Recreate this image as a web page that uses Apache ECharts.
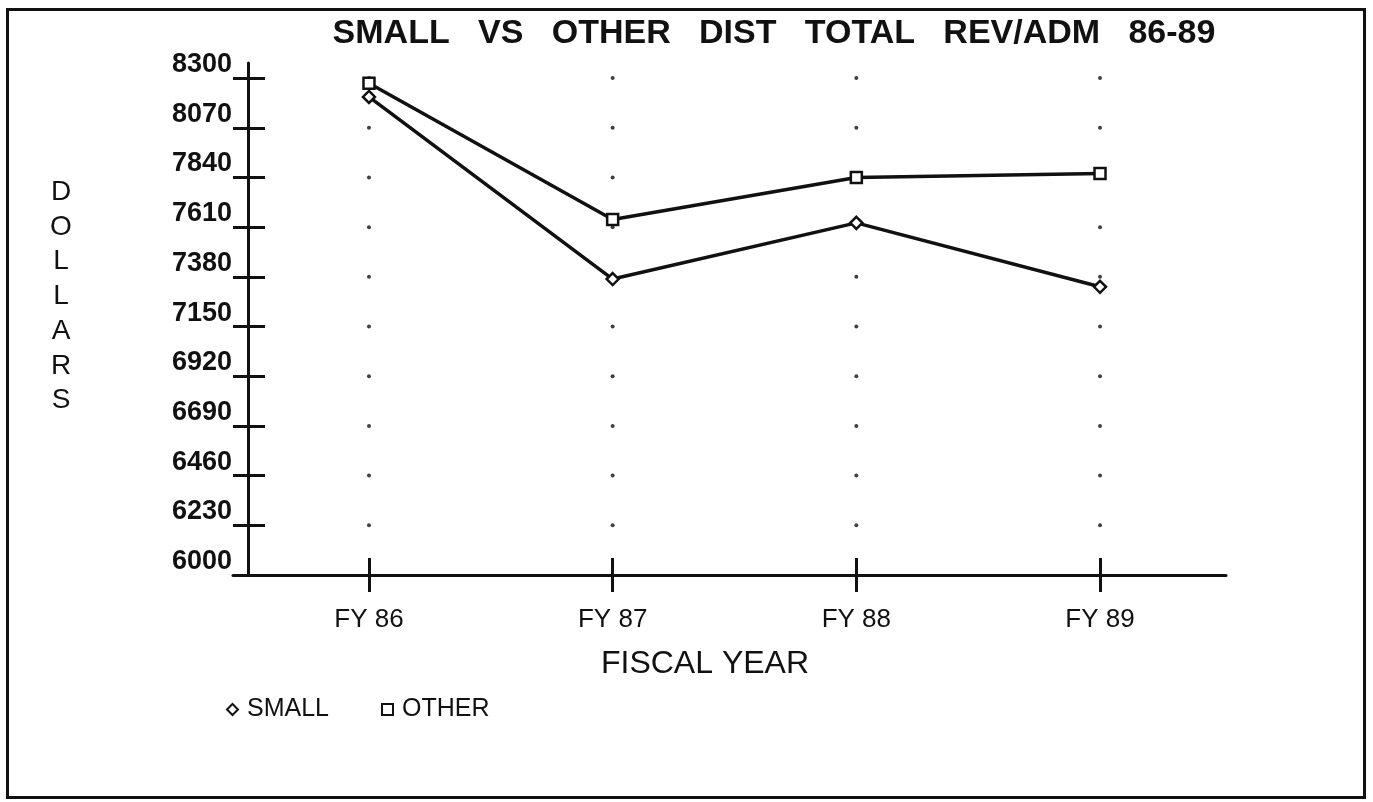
<!DOCTYPE html>
<html>
<head>
<meta charset="utf-8">
<script src="https://cdn.jsdelivr.net/npm/echarts@6/dist/echarts.min.js"></script>
<style>
  html, body { margin: 0; padding: 0; background: #ffffff; }
  #chart { width: 1373px; height: 802px; position: absolute; left: 0; top: 0; }
  #frame { position: absolute; left: 6px; top: 8px; width: 1354px; height: 785px;
           border: 3px solid #111; pointer-events: none; }
</style>
</head>
<body>
<div id="chart"></div>
<div id="frame"></div>
<script>
// ---- data ----
const categories = ['FY 86', 'FY 87', 'FY 88', 'FY 89'];
const smallValues = [8213, 7370, 7630, 7334];
const otherValues = [8276, 7646, 7840, 7859];
const yTicks = [6000, 6230, 6460, 6690, 6920, 7150, 7380, 7610, 7840, 8070, 8300];
const titleText = 'SMALL   VS   OTHER   DIST   TOTAL   REV/ADM   86-89';

const catIdx = categories.map((c, i) => i);
const toPairs = vals => vals.map((v, i) => [i, v]);
const dots = [];
catIdx.forEach(i => yTicks.slice(1).forEach(t => dots.push([i, t])));

const FONT = 'Liberation Sans, Arial, sans-serif';
const chart = echarts.init(document.getElementById('chart'));

const xBase = {
  type: 'value', min: -0.558, max: 3.517, gridIndex: 0, position: 'bottom',
  splitLine: { show: false }
};
const yBase = {
  type: 'value', min: 6000, max: 8370, gridIndex: 0, position: 'left', offset: -15,
  splitLine: { show: false }
};

chart.setOption({
  backgroundColor: '#ffffff',
  animation: false,
  title: [
    { text: titleText, left: 769, top: 12, textAlign: 'center',
      textStyle: { fontFamily: FONT, fontSize: 34, fontWeight: 'bold', color: '#111' } },
    { text: 'FISCAL YEAR', left: 700, top: 643, textAlign: 'center',
      textStyle: { fontFamily: FONT, fontSize: 32, fontWeight: 'normal', color: '#111' } },
    { text: 'DOLLARS'.split('').join('\n'), left: 56, top: 170, textAlign: 'center',
      textStyle: { fontFamily: FONT, fontSize: 28, fontWeight: 'normal', color: '#111', lineHeight: 34.7 } }
  ],
  legend: {
    left: 221, top: 692, itemWidth: 11, itemHeight: 11, itemGap: 52,
    textStyle: { fontFamily: FONT, fontSize: 25, color: '#111', padding: [0, 0, 0, 4] },
    data: [{ name: 'SMALL', icon: 'diamond' }, { name: 'OTHER', icon: 'rect' }]
  },
  grid: { left: 233, right: 147, top: 63, bottom: 227, containLabel: false },
  xAxis: [
    Object.assign({}, xBase, {
      axisLine: { show: true, onZero: false, lineStyle: { color: '#111', width: 3 } },
      axisTick: { show: true, inside: false, length: 17, customValues: catIdx, lineStyle: { color: '#111', width: 3 } },
      axisLabel: { show: true, margin: 32, customValues: catIdx,
        formatter: v => categories[Math.round(v)],
        fontFamily: FONT, fontSize: 26, color: '#111' }
    }),
    Object.assign({}, xBase, {
      axisLine: { show: false, onZero: false },
      axisTick: { show: true, inside: true, length: 17, customValues: catIdx, lineStyle: { color: '#111', width: 3 } },
      axisLabel: { show: false }
    })
  ],
  yAxis: [
    Object.assign({}, yBase, {
      axisLine: { show: true, onZero: false, lineStyle: { color: '#111', width: 3 } },
      axisTick: { show: true, inside: false, length: 15, customValues: yTicks, lineStyle: { color: '#111', width: 3 } },
      axisLabel: { show: true, margin: 16, customValues: yTicks, verticalAlign: 'bottom',
        formatter: v => String(Math.round(v)),
        fontFamily: FONT, fontSize: 27, fontWeight: 'bold', color: '#111' }
    }),
    Object.assign({}, yBase, {
      axisLine: { show: false, onZero: false },
      axisTick: { show: true, inside: true, length: 17, customValues: yTicks, lineStyle: { color: '#111', width: 3 } },
      axisLabel: { show: false }
    })
  ],
  series: [
    { name: 'dots', type: 'scatter', data: dots, symbol: 'circle', symbolSize: 4,
      itemStyle: { color: '#111' }, silent: true, z: 1, xAxisIndex: 0, yAxisIndex: 0 },
    { name: 'SMALL', type: 'line', data: toPairs(smallValues), symbol: 'diamond', symbolSize: 12,
      showSymbol: true, lineStyle: { color: '#111', width: 3.5 },
      itemStyle: { color: '#fff', borderColor: '#111', borderWidth: 2.5 }, z: 3 },
    { name: 'OTHER', type: 'line', data: toPairs(otherValues), symbol: 'rect', symbolSize: 11,
      showSymbol: true, lineStyle: { color: '#111', width: 3.5 },
      itemStyle: { color: '#fff', borderColor: '#111', borderWidth: 2.5 }, z: 3 }
  ]
});
</script>
</body>
</html>
